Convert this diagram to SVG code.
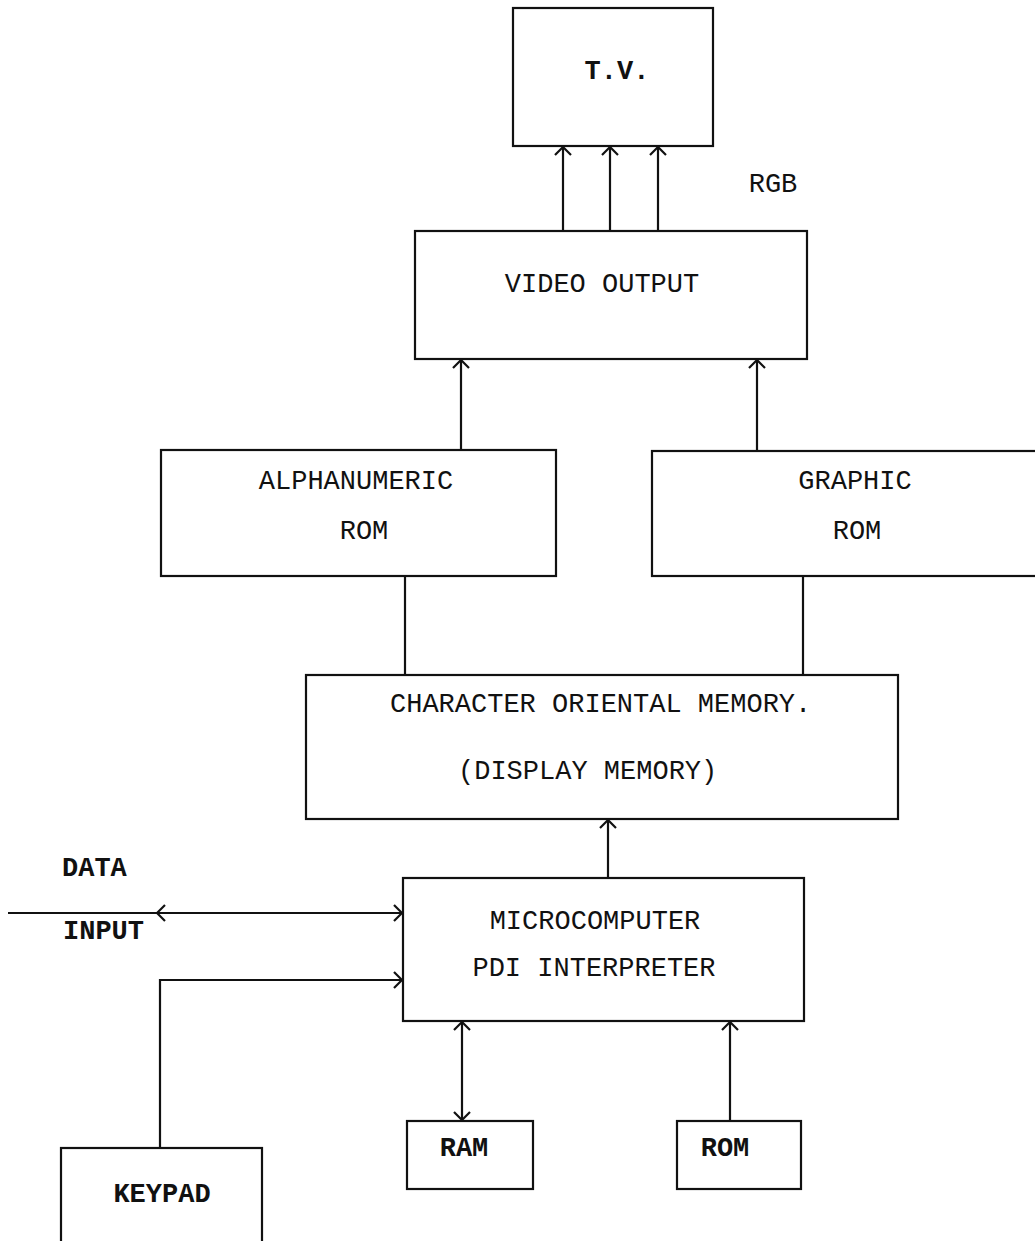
<svg xmlns="http://www.w3.org/2000/svg" width="1035" height="1241" viewBox="0 0 1035 1241">
<defs>
<style>
.box{fill:none;stroke:#111;stroke-width:2.2}
.ln{fill:none;stroke:#111;stroke-width:2.2}
.t{font-family:"Liberation Mono","DejaVu Sans Mono",monospace;font-size:27px;fill:#111}
.c{text-anchor:middle}
.b{font-weight:bold}
</style>
<marker id="ah" viewBox="0 0 12 18" refX="11" refY="9" markerWidth="12" markerHeight="18" markerUnits="userSpaceOnUse" orient="auto-start-reverse">
<path d="M3,1 L11,9 L3,17" fill="none" stroke="#111" stroke-width="2.2"/>
</marker>
</defs>
<rect width="1035" height="1241" fill="#fff"/>
<g id="connectors">
<path class="ln" d="M563 231 V147" marker-end="url(#ah)"/>
<path class="ln" d="M610 231 V147" marker-end="url(#ah)"/>
<path class="ln" d="M658 231 V147" marker-end="url(#ah)"/>
<path class="ln" d="M461 450 V360" marker-end="url(#ah)"/>
<path class="ln" d="M757 451 V360" marker-end="url(#ah)"/>
<path class="ln" d="M405 576 V675"/>
<path class="ln" d="M803 577 V675"/>
<path class="ln" d="M608 878 V820" marker-end="url(#ah)"/>
<path class="ln" d="M8 913 H157"/>
<path class="ln" d="M157 913 H402" marker-start="url(#ah)" marker-end="url(#ah)"/>
<path class="ln" d="M160 1148 V980 H402" marker-end="url(#ah)"/>
<path class="ln" d="M462 1022 V1120" marker-start="url(#ah)" marker-end="url(#ah)"/>
<path class="ln" d="M730 1121 V1022" marker-end="url(#ah)"/>
</g>
<g id="tv">
<rect class="box" x="513" y="8" width="200" height="138"/>
<text class="t c b" x="617" y="79">T.V.</text>
</g>
<g id="rgb-label">
<text class="t c" x="773" y="192">RGB</text>
</g>
<g id="video-output">
<rect class="box" x="415" y="231" width="392" height="128"/>
<text class="t c" x="602" y="292">VIDEO OUTPUT</text>
</g>
<g id="alphanumeric-rom">
<rect class="box" x="161" y="450" width="395" height="126"/>
<text class="t c" x="356" y="489">ALPHANUMERIC</text>
<text class="t c" x="364" y="539">ROM</text>
</g>
<g id="graphic-rom">
<rect class="box" x="652" y="451" width="400" height="125"/>
<text class="t c" x="855" y="489">GRAPHIC</text>
<text class="t c" x="857" y="539">ROM</text>
</g>
<g id="character-memory">
<rect class="box" x="306" y="675" width="592" height="144"/>
<text class="t" x="390" y="712">CHARACTER ORIENTAL MEMORY.</text>
<text class="t" x="458" y="779">(DISPLAY MEMORY)</text>
</g>
<g id="microcomputer">
<rect class="box" x="403" y="878" width="401" height="143"/>
<text class="t c" x="595" y="929">MICROCOMPUTER</text>
<text class="t c" x="594" y="976">PDI INTERPRETER</text>
</g>
<g id="data-input">
<text class="t b" x="62" y="876">DATA</text>
<text class="t b" x="63" y="939">INPUT</text>
</g>
<g id="ram">
<rect class="box" x="407" y="1121" width="126" height="68"/>
<text class="t c b" x="464" y="1156">RAM</text>
</g>
<g id="rom">
<rect class="box" x="677" y="1121" width="124" height="68"/>
<text class="t c b" x="725" y="1156">ROM</text>
</g>
<g id="keypad">
<rect class="box" x="61" y="1148" width="201" height="110"/>
<text class="t c b" x="162" y="1202">KEYPAD</text>
</g>
</svg>
